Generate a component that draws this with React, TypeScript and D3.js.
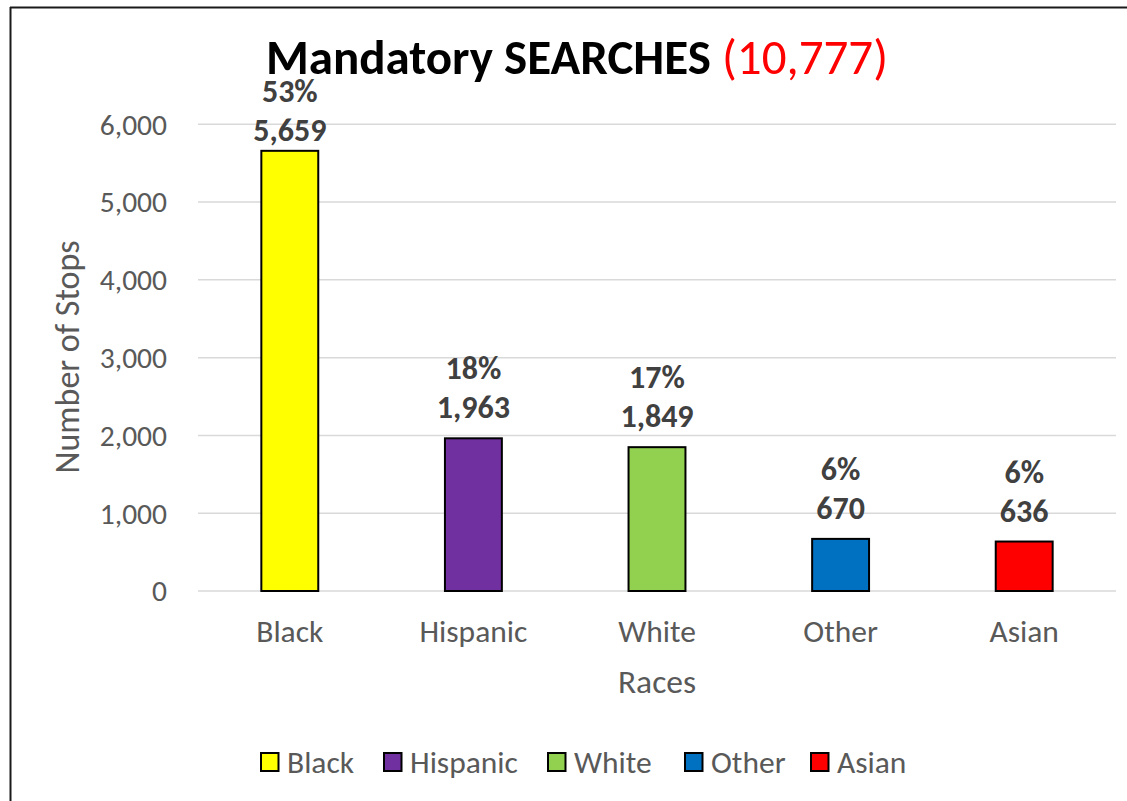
import React from "react";
import * as d3 from "d3";

const categories = ["Black", "Hispanic", "White", "Other", "Asian"];
const values = [5659, 1963, 1849, 670, 636];
const percents = ["53%", "18%", "17%", "6%", "6%"];
const colors = ["#FFFF00", "#7030A0", "#92D050", "#0070C0", "#FF0000"];
const yTicks = [0, 1000, 2000, 3000, 4000, 5000, 6000];
const titleMain = "Mandatory SEARCHES";
const titleTotal = "(10,777)";
const xTitle = "Races";
const yTitle = "Number of Stops";

const W = 1127;
const H = 801;
const FONT = "Carlito, Calibri, Lato, 'Open Sans', sans-serif";
const legendX = [260, 383, 547, 684, 810];

export default function App() {
  const plotLeft = 198;
  const plotRight = 1116;
  const y = d3.scaleLinear().domain([0, 6000]).range([591, 124.3]);
  const x = d3
    .scaleBand<string>()
    .domain(categories)
    .range([plotLeft, plotRight])
    .paddingInner(0.69)
    .paddingOuter(0.345);
  const fmt = d3.format(",");

  return (
    <svg
      width={W}
      height={H}
      style={{ position: "absolute", left: 0, top: 0, display: "block", background: "#fff" }}
      fontFamily={FONT}
    >
      <rect x={0} y={0} width={W} height={H} fill="#fff" />
      {/* chart border */}
      <line x1={10} y1={7.5} x2={W} y2={7.5} stroke="#1a1a1a" strokeWidth={2} />
      <line x1={10.5} y1={7} x2={10.5} y2={H} stroke="#1a1a1a" strokeWidth={2} />

      {/* title */}
      <text x={577} y={74} textAnchor="middle" fontSize={49}>
        <tspan fontWeight="bold" fill="#000">{titleMain}</tspan>
        <tspan fill="#FF0000">{" " + titleTotal}</tspan>
      </text>

      {/* gridlines */}
      {yTicks.map((t) => (
        <line
          key={t}
          x1={plotLeft}
          x2={plotRight}
          y1={y(t)}
          y2={y(t)}
          stroke="#d9d9d9"
          strokeWidth={1.5}
        />
      ))}
      {/* y tick labels */}
      {yTicks.map((t) => (
        <text
          key={"l" + t}
          x={167}
          y={y(t)}
          dy="0.35em"
          textAnchor="end"
          fontSize={29.5}
          fill="#595959"
        >
          {fmt(t)}
        </text>
      ))}

      {/* bars */}
      {categories.map((c, i) => (
        <rect
          key={c}
          x={x(c)}
          y={y(values[i])}
          width={x.bandwidth()}
          height={y(0) - y(values[i])}
          fill={colors[i]}
          stroke="#000"
          strokeWidth={2}
        />
      ))}

      {/* data labels */}
      {categories.map((c, i) => {
        const cx = (x(c) as number) + x.bandwidth() / 2;
        const top = y(values[i]);
        const pctY = Math.max(top - 59, 102);
        return (
          <g key={"d" + c} fontWeight="bold" fill="#404040" fontSize={32} textAnchor="middle">
            <text x={cx} y={pctY}>{percents[i]}</text>
            <text x={cx} y={pctY + 39}>{fmt(values[i])}</text>
          </g>
        );
      })}

      {/* category labels */}
      {categories.map((c) => (
        <text
          key={"c" + c}
          x={(x(c) as number) + x.bandwidth() / 2}
          y={642}
          textAnchor="middle"
          fontSize={31.5}
          fill="#595959"
        >
          {c}
        </text>
      ))}

      {/* axis titles */}
      <text x={657} y={693} textAnchor="middle" fontSize={33.5} fill="#595959">
        {xTitle}
      </text>
      <text
        transform={`translate(79, 357) rotate(-90)`}
        textAnchor="middle"
        fontSize={34}
        fill="#595959"
      >
        {yTitle}
      </text>

      {/* legend */}
      {categories.map((c, i) => (
        <g key={"lg" + c} transform={`translate(${legendX[i]}, 753)`}>
          <rect x={1} y={0} width={17.5} height={18} fill={colors[i]} stroke="#000" strokeWidth={2} />
          <text x={27} y={9} dy="0.35em" fontSize={31.5} fill="#595959">
            {c}
          </text>
        </g>
      ))}
    </svg>
  );
}
